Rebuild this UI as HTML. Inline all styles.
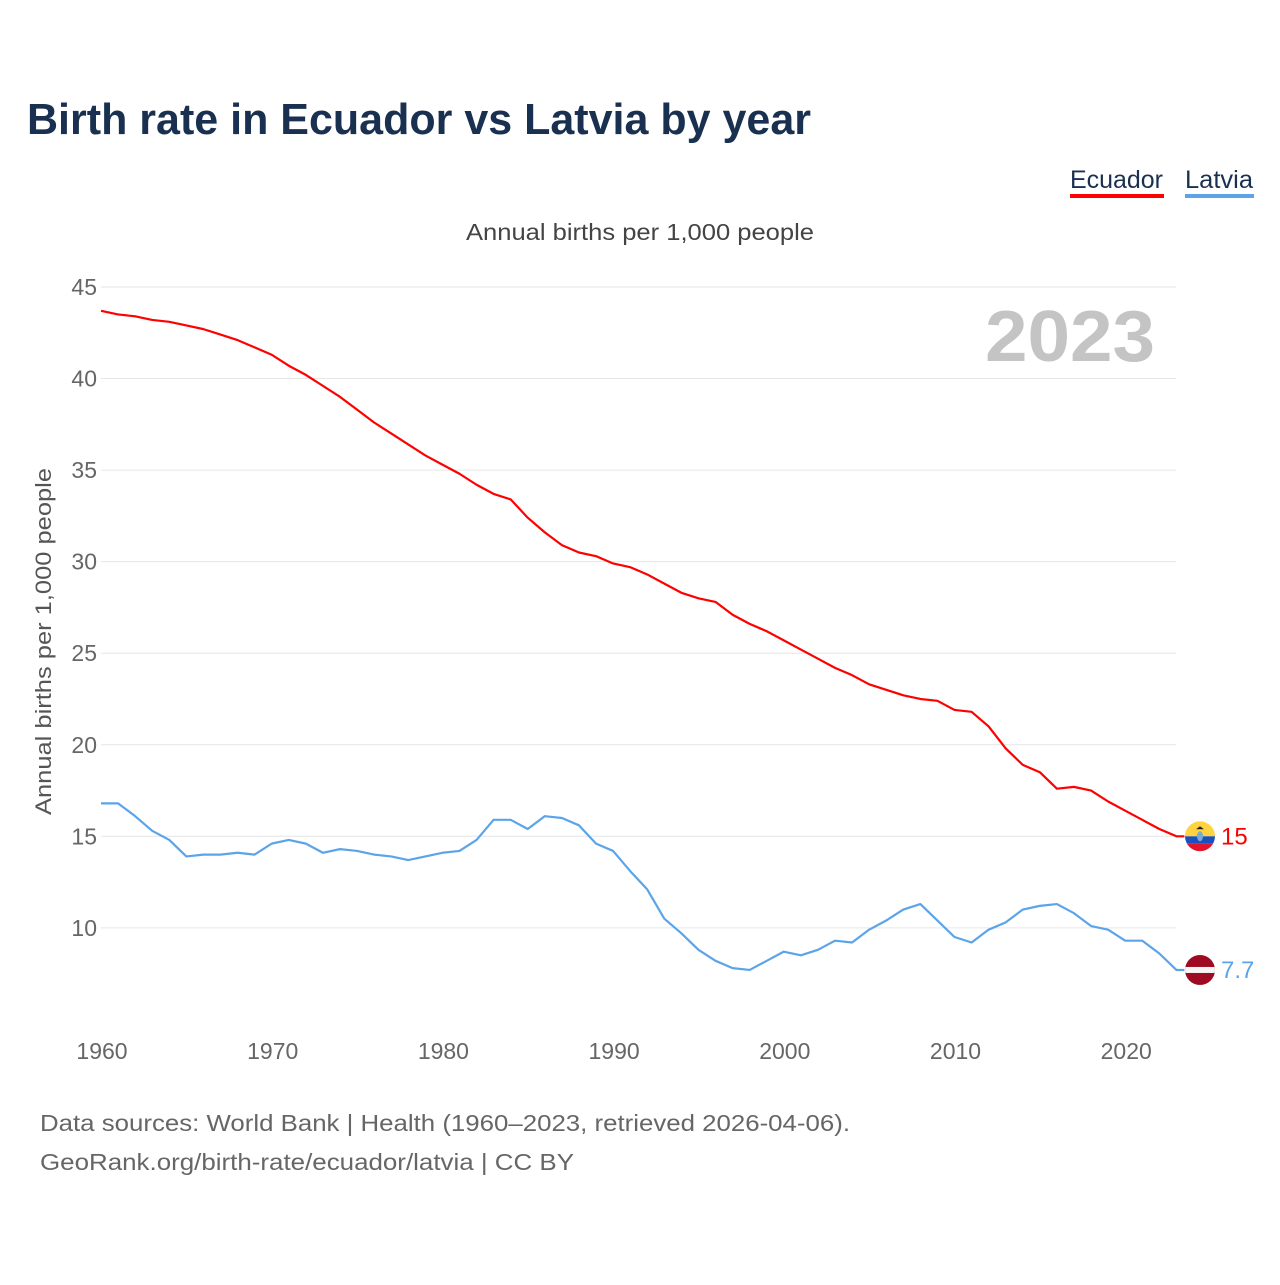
<!DOCTYPE html>
<html><head><meta charset="utf-8"><style>
body{margin:0;background:#fff;font-family:"Liberation Sans",sans-serif;}
svg text{font-family:"Liberation Sans",sans-serif;}
</style></head><body>
<svg width="1280" height="1280" viewBox="0 0 1280 1280" xmlns="http://www.w3.org/2000/svg">
<rect width="1280" height="1280" fill="#fff"/>
<text x="27" y="134" font-size="44" font-weight="bold" fill="#1a3050" textLength="784" lengthAdjust="spacingAndGlyphs">Birth rate in Ecuador vs Latvia by year</text>
<g>
<text x="1070" y="188" font-size="25" fill="#1a3050" textLength="93" lengthAdjust="spacingAndGlyphs">Ecuador</text>
<rect x="1070" y="194" width="94" height="4" fill="#ff0000"/>
<text x="1185" y="188" font-size="25" fill="#1a3050" textLength="68" lengthAdjust="spacingAndGlyphs">Latvia</text>
<rect x="1185" y="194" width="69" height="4" fill="#5ba4ea"/>
</g>
<text x="466" y="240" font-size="23" fill="#444" textLength="348" lengthAdjust="spacingAndGlyphs">Annual births per 1,000 people</text>
<text x="985" y="361" font-size="72" font-weight="bold" fill="#c4c4c4" textLength="170" lengthAdjust="spacingAndGlyphs">2023</text>
<text transform="translate(51,815) rotate(-90)" font-size="22" fill="#555" textLength="347" lengthAdjust="spacingAndGlyphs">Annual births per 1,000 people</text>
<g id="grid"></g><g id="xt"></g><g id="lines"></g>
<g>
<text x="40" y="1131" font-size="23" fill="#666" textLength="810" lengthAdjust="spacingAndGlyphs">Data sources: World Bank | Health (1960–2023, retrieved 2026-04-06).</text>
<text x="40" y="1170" font-size="23" fill="#666" textLength="534" lengthAdjust="spacingAndGlyphs">GeoRank.org/birth-rate/ecuador/latvia | CC BY</text>
</g>
</svg>
<script>
const years=[];for(let y=1960;y<=2023;y++)years.push(y);
const ecuador=[43.7,43.5,43.4,43.2,43.1,42.9,42.7,42.4,42.1,41.7,41.3,40.7,40.2,39.6,39.0,38.3,37.6,37.0,36.4,35.8,35.3,34.8,34.2,33.7,33.4,32.4,31.6,30.9,30.5,30.3,29.9,29.7,29.3,28.8,28.3,28.0,27.8,27.1,26.6,26.2,25.7,25.2,24.7,24.2,23.8,23.3,23.0,22.7,22.5,22.4,21.9,21.8,21.0,19.8,18.9,18.5,17.6,17.7,17.5,16.9,16.4,15.9,15.4,15.0];
const latvia=[16.8,16.8,16.1,15.3,14.8,13.9,14.0,14.0,14.1,14.0,14.6,14.8,14.6,14.1,14.3,14.2,14.0,13.9,13.7,13.9,14.1,14.2,14.8,15.9,15.9,15.4,16.1,16.0,15.6,14.6,14.2,13.1,12.1,10.5,9.7,8.8,8.2,7.8,7.7,8.2,8.7,8.5,8.8,9.3,9.2,9.9,10.4,11.0,11.3,10.4,9.5,9.2,9.9,10.3,11.0,11.2,11.3,10.8,10.1,9.9,9.3,9.3,8.6,7.7];
const yTicks=[10,15,20,25,30,35,40,45];
const xTicks=[1960,1970,1980,1990,2000,2010,2020];
const lastLabels=["15","7.7"];
const X=v=>101+(v-1960)*17.07, Y=v=>287+(45-v)*18.31;
const NS="http://www.w3.org/2000/svg";
function mk(t,a,p){const e=document.createElementNS(NS,t);for(const k in a)e.setAttribute(k,a[k]);p.appendChild(e);return e;}
const g=document.getElementById('grid');
yTicks.forEach(t=>{
 const l=mk('line',{x1:101,x2:1176,y1:Y(t),y2:Y(t),stroke:'#e6e6e6','stroke-width':1},g);
 
 
 const tx=mk('text',{x:97,y:Y(t)+8,'font-size':23,fill:'#666','text-anchor':'end'},g);
 tx.textContent=t;
 
 
});
const xt=document.getElementById('xt');
xTicks.forEach(t=>{
 const tx=mk('text',{x:X(t)+1,y:1059,'font-size':23,fill:'#666','text-anchor':'middle'},xt);
 tx.textContent=t;
 
 
});
const L=document.getElementById('lines');
function series(d,c,name,lab){
 let pts=d.map((v,i)=>X(years[i])+','+Y(v)).join(' ');
 pts+=' '+(X(2023)+8)+','+Y(d[d.length-1]);
 const p=mk('polyline',{points:pts,fill:'none',stroke:c,'stroke-width':2.2,'stroke-linejoin':'round'},L);
 
 
 const cy=Y(d[d.length-1]);
 const f=mk('g',{},L);
 
 
 mk('clipPath',{id:'c'+name},f);
 mk('circle',{cx:1200,cy:cy,r:15},document.getElementById('c'+name));
 const fg=mk('g',{'clip-path':'url(#c'+name+')'},f);
 if(name==='ecuador'){
  mk('rect',{x:1185,y:cy-15,width:30,height:15,fill:'#ffd23f'},fg);
  mk('rect',{x:1185,y:cy,width:30,height:7.5,fill:'#1a4fc0'},fg);
  mk('rect',{x:1185,y:cy+7.5,width:30,height:7.5,fill:'#e0142c'},fg);
  mk('ellipse',{cx:1200,cy:cy,rx:3,ry:5,fill:'#7aa9d6'},fg);
  mk('path',{d:`M1196 ${cy-7} l4 -3 l4 3 z`,fill:'#222'},fg);
 } else {
  mk('rect',{x:1185,y:cy-15,width:30,height:30,fill:'#9e0a22'},fg);
  mk('rect',{x:1185,y:cy-3,width:30,height:6,fill:'#f5f5f5'},fg);
 }
 const t=mk('text',{x:1221,y:cy+8,'font-size':24,fill:c},L);
 t.textContent=lab;
 
 
}
series(ecuador,'#ff0000','ecuador',lastLabels[0]);
series(latvia,'#5ba4ea','latvia',lastLabels[1]);
</script>
</body></html>
